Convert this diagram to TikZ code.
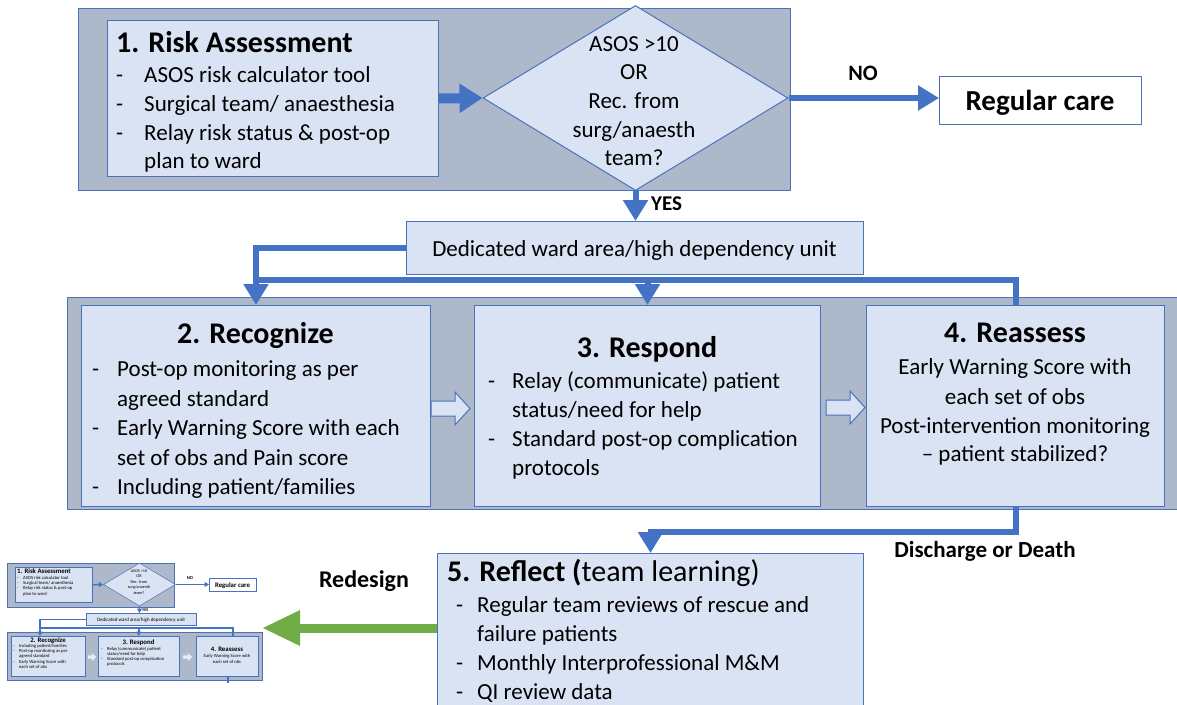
\documentclass[tikz,border=0pt]{standalone}
\usepackage{fontspec}
\setmainfont{Carlito}
\usetikzlibrary{arrows.meta,shapes.geometric}
\definecolor{grayfill}{HTML}{ADB9CA}
\definecolor{lightfill}{HTML}{DAE3F3}
\definecolor{edgeblue}{HTML}{4A72B8}
\definecolor{arrowblue}{HTML}{4472C4}
\definecolor{greenarrow}{HTML}{70AD47}
\tikzset{
  graybox/.style={draw=edgeblue, fill=grayfill, line width=1pt, inner sep=0pt},
  lightbox/.style={draw=edgeblue, fill=lightfill, line width=1pt, inner sep=0pt},
  whitebox/.style={draw=edgeblue, fill=white, line width=1pt, inner sep=0pt},
  txt/.style={font=\fontsize{23}{28}\selectfont, inner sep=0pt, anchor=base west},
  ctxt/.style={font=\fontsize{23}{28}\selectfont, inner sep=0pt, anchor=base},
  ttl/.style={font=\bfseries\fontsize{30}{36}\selectfont, inner sep=0pt, anchor=base},
  lbl/.style={font=\bfseries\fontsize{22}{26}\selectfont, inner sep=0pt, anchor=base},
  fatarrow/.style={draw=arrowblue, line width=10pt, -{Triangle[width=28pt,length=23pt]}},
  conn/.style={draw=arrowblue, line width=6pt, -{Triangle[width=24pt,length=21pt]}},
  connline/.style={draw=arrowblue, line width=6pt},
  openarrow/.style={draw=edgeblue, fill=lightfill, line width=1pt},
  greenconn/.style={draw=greenarrow, line width=9pt, -{Triangle[width=33pt,length=38pt]}},
  % thumbnail styles
  tgray/.style={draw=edgeblue, fill=grayfill, line width=0.5pt, inner sep=0pt},
  tlight/.style={draw=edgeblue, fill=lightfill, line width=0.5pt, inner sep=0pt},
  twhite/.style={draw=edgeblue, fill=white, line width=0.5pt, inner sep=0pt},
  ttxt/.style={font=\fontsize{4.6}{5.2}\selectfont, inner sep=0pt, anchor=base west},
  tctxt/.style={font=\fontsize{4.6}{5.2}\selectfont, inner sep=0pt, anchor=base},
  tttl/.style={font=\bfseries\fontsize{6.8}{8}\selectfont, inner sep=0pt, anchor=base},
  tconn/.style={draw=arrowblue, line width=1.5pt, -{Triangle[width=5pt,length=4.5pt]}},
  tline/.style={draw=arrowblue, line width=1.5pt},
}
\newcommand{\mkbox}[6]{\node[#1, anchor=north west, minimum width=#5pt-#3pt, minimum height=#6pt-#4pt] (#2) at (#3,#4) {};}
\newcommand{\bul}[6][txt]{\node[#1] (#2d) at (#3,#5) {-}; \node[#1] (#2) at (#4,#5) {#6};}
\newcommand{\cont}[5][txt]{\node[#1] (#2) at (#3,#4) {#5};}
\begin{document}
\begin{tikzpicture}[x=1pt,y=-1pt]
\clip (0,0) rectangle (1177,704);
\fill[white] (0,0) rectangle (1177,704);
% ---------------- top panel
\mkbox{graybox}{top}{78}{8}{790}{190}
\mkbox{lightbox}{risk}{107}{20}{438}{176}
\node[diamond, draw=edgeblue, fill=lightfill, line width=1pt, inner sep=0pt,
      minimum width=305pt, minimum height=185pt] (dia) at (635.5,98) {};
\node[ttl, anchor=base west] (riskT) at (116,52) {1. Risk Assessment};
\bul{r1}{116}{144}{82}{ASOS risk calculator tool}
\bul{r2}{116}{144}{111}{Surgical team/ anaesthesia}
\bul{r3}{116}{144}{140}{Relay risk status \& post-op}
\cont{r4}{144}{168}{plan to ward}
\node[ctxt] (d1) at (634,51) {ASOS >10};
\node[ctxt] (d2) at (634,79) {OR};
\node[ctxt] (d3) at (634,108) {Rec. from};
\node[ctxt] (d4) at (634,137) {surg/anaesth};
\node[ctxt] (d5) at (634,165) {team?};
\draw[fatarrow] (risk.east) -- (dia.west);
\mkbox{whitebox}{reg}{939}{76}{1141}{124}
\node[ttl, font=\bfseries\fontsize{29}{34}\selectfont] (regT) at (1040,110) {Regular care};
\draw[conn] (dia.east) -- (dia.east -| reg.west);
\node[lbl] (no) at (863,80) {NO};
\mkbox{lightbox}{ded}{406}{221}{863}{274}
\node[ctxt] (dedT) at (634.5,256) {Dedicated ward area/high dependency unit};
\draw[conn] (dia.south) -- (dia.south |- ded.north);
\node[lbl, anchor=base west, font=\bfseries\fontsize{21}{25}\selectfont] (yes) at (651,210) {YES};
% ---------------- middle panel
\mkbox{graybox}{mid}{67}{297}{1185}{509}
\mkbox{lightbox}{rec}{81}{305}{430}{506}
\mkbox{lightbox}{res}{474}{305}{820}{506}
\mkbox{lightbox}{rea}{866}{305}{1164}{506}
\coordinate (fb) at (255.5,280);
\draw[conn] (ded.west) -| (rec.north);
\draw[connline] (rea.north) |- (fb);
\draw[conn] (res.north |- fb) -- (res.north);
\draw[openarrow] (431,401) -- (455,401) -- (455,392) -- (470,408.5) -- (455,425) -- (455,416) -- (431,416) -- cycle;
\draw[openarrow] (826,400) -- (850,400) -- (850,391) -- (865,407.5) -- (850,424) -- (850,415) -- (826,415) -- cycle;
% Recognize
\node[ttl] (recT) at (255.5,343) {2. Recognize};
\bul{c1}{92}{117}{376}{Post-op monitoring as per}
\cont{c2}{117}{406}{agreed standard}
\bul{c3}{92}{117}{435}{Early Warning Score with each}
\cont{c4}{117}{465}{set of obs and Pain score}
\bul{c5}{92}{117}{494}{Including patient/families}
% Respond
\node[ttl] (resT) at (647,357) {3. Respond};
\bul{s1}{488}{512}{388}{Relay (communicate) patient}
\cont{s2}{512}{417}{status/need for help}
\bul{s3}{488}{512}{446}{Standard post-op complication}
\cont{s4}{512}{475}{protocols}
% Reassess
\node[ttl] (reaT) at (1015,342) {4. Reassess};
\node[ctxt] (a1) at (1015,374) {Early Warning Score with};
\node[ctxt] (a2) at (1015,404) {each set of obs};
\node[ctxt] (a3) at (1015,433) {Post-intervention monitoring};
\node[ctxt] (a4) at (1015,461) {– patient stabilized?};
% ---------------- reflect
\mkbox{lightbox}{refl}{437}{553}{863}{720}
\draw[conn] (rea.south) -- ++(0,25) -| (refl.north);
\node[lbl, font=\bfseries\fontsize{23}{27}\selectfont] (dd) at (985,557) {Discharge or Death};
\node[inner sep=0pt, anchor=base west, font=\fontsize{30}{36}\selectfont] (reflT) at (447,581) {\bfseries 5. Reflect (\mdseries team learning)};
\bul{f1}{456}{477}{612}{Regular team reviews of rescue and}
\cont{f2}{477}{641}{failure patients}
\bul{f3}{456}{477}{670}{Monthly Interprofessional M\&M}
\bul{f4}{456}{477}{699}{QI review data}
\coordinate (thumbR) at (262,628);
\draw[greenconn] (refl.west |- thumbR) -- (thumbR);
\node[lbl, font=\bfseries\fontsize{24}{28}\selectfont] (redes) at (364,587) {Redesign};
% ---------------- thumbnail
\mkbox{tgray}{tTop}{7}{563}{174}{607}
\mkbox{tlight}{tRisk}{15}{567}{92}{602}
\node[diamond, tlight, minimum width=72pt, minimum height=43pt] (tDia) at (139.5,584.5) {};
\draw[tconn] (tRisk.east) -- (tDia.west);
\mkbox{twhite}{tReg}{209}{578}{256}{591}
\draw[tconn] (tDia.east) -- (tDia.east -| tReg.west);
\node[tctxt, font=\bfseries\fontsize{4.6}{5}\selectfont] (tNo) at (190,579) {NO};
\mkbox{tlight}{tDed}{86}{613}{196}{625}
\draw[tconn] (tDia.south) -- (tDia.south |- tDed.north);
\node[ttxt, font=\bfseries\fontsize{4.2}{5}\selectfont] (tYes) at (142,611) {YES};
\mkbox{tgray}{tMid}{7}{632}{262}{680}
\mkbox{tlight}{tRec}{11}{636}{85}{676}
\mkbox{tlight}{tRes}{98}{636}{179}{676}
\mkbox{tlight}{tRea}{196}{636}{258}{676}
\coordinate (tfb) at (40,628);
\coordinate (tfr) at (233,636);
\draw[tconn] (tDed.west) -| (tfb |- tRec.north);
\draw[tline] (tfr) |- (tfb);
\draw[tconn] (tRes.north |- tfb) -- (tRes.north);
\draw[openarrow, line width=0.3pt, draw=lightfill!70!white, fill=lightfill!70!white] (88,655.5) -- (92,655.5) -- (92,653.5) -- (96,657) -- (92,660.5) -- (92,658.5) -- (88,658.5) -- cycle;
\draw[openarrow, line width=0.3pt, draw=lightfill!70!white, fill=lightfill!70!white] (183,655.5) -- (188,655.5) -- (188,653.5) -- (192,657) -- (188,660.5) -- (188,658.5) -- (183,658.5) -- cycle;
\coordinate (tstub) at (228,683);
\draw[tline] (tRea.south -| tstub) -- (tstub);
% thumbnail texts
\node[tttl, anchor=base west] (tRiskT) at (17,573) {1. Risk Assessment};
\bul[ttxt]{tr1}{17}{23}{579.5}{ASOS risk calculator tool}
\bul[ttxt]{tr2}{17}{23}{584.7}{Surgical team/ anaesthesia}
\bul[ttxt]{tr3}{17}{23}{589.9}{Relay risk status \& post-op}
\cont[ttxt]{tr4}{23}{595.1}{plan to ward}
\node[tctxt, font=\fontsize{4.2}{5}\selectfont] (td1) at (139,572) {ASOS >10};
\node[tctxt, font=\fontsize{4.2}{5}\selectfont] (td2) at (139,577.5) {OR};
\node[tctxt, font=\fontsize{4.2}{5}\selectfont] (td3) at (139,583) {Rec. from};
\node[tctxt, font=\fontsize{4.2}{5}\selectfont] (td4) at (139,588.5) {surg/anaesth};
\node[tctxt, font=\fontsize{4.2}{5}\selectfont] (td5) at (139,594) {team?};
\node[tttl] (tRegT) at (232.5,587) {Regular care};
\node[tctxt, font=\fontsize{5}{6}\selectfont] (tDedT) at (141,621.5) {Dedicated ward area/high dependency unit};
\node[tttl] (tRecT) at (48,642) {2. Recognize};
\bul[ttxt]{tc1}{13}{19}{647.5}{Including patient/families}
\bul[ttxt]{tc2}{13}{19}{652.7}{Post-op monitoring as per}
\cont[ttxt]{tc3}{19}{657.9}{agreed standard}
\bul[ttxt]{tc4}{13}{19}{663.1}{Early Warning Score with}
\cont[ttxt]{tc5}{19}{668.3}{each set of obs}
\node[tttl] (tResT) at (138.5,644) {3. Respond};
\bul[ttxt]{ts1}{101}{107}{650}{Relay (communicate) patient}
\cont[ttxt]{ts2}{107}{655.2}{status/need for help}
\bul[ttxt]{ts3}{101}{107}{660.4}{Standard post-op complication}
\cont[ttxt]{ts4}{107}{665.6}{protocols}
\node[tttl] (tReaT) at (227,651) {4. Reassess};
\node[tctxt] (ta1) at (227,657.5) {Early Warning Score with};
\node[tctxt] (ta2) at (227,663) {each set of obs};
\end{tikzpicture}
\end{document}
